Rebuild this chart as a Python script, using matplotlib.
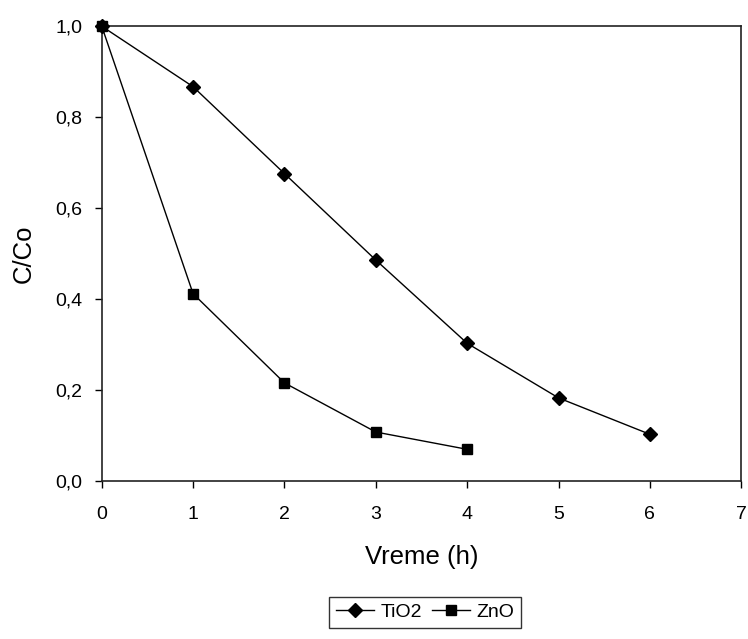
import matplotlib
matplotlib.use("Agg")
import matplotlib.pyplot as plt

plt.rcParams['font.family'] = ['Liberation Sans', 'DejaVu Sans']

# data
t_tio2 = [0, 1, 2, 3, 4, 5, 6]
c_tio2 = [1.0, 0.867, 0.676, 0.486, 0.303, 0.183, 0.103]
t_zno = [0, 1, 2, 3, 4]
c_zno = [1.0, 0.412, 0.216, 0.108, 0.070]

xticks = [0, 1, 2, 3, 4, 5, 6, 7]
yticks = [0.0, 0.2, 0.4, 0.6, 0.8, 1.0]
ytick_labels = ['0,0', '0,2', '0,4', '0,6', '0,8', '1,0']

fig = plt.figure(figsize=(7.48, 6.39), dpi=100)
ax = fig.add_axes([0.136, 0.247, 0.855, 0.712])

ax.plot(t_tio2, c_tio2, color='black', lw=1, marker='D', ms=7, label='TiO2',
        clip_on=False, zorder=3)
ax.plot(t_zno, c_zno, color='black', lw=1, marker='s', ms=7.5, label='ZnO',
        clip_on=False, zorder=4)

ax.set_xlim(0, 7)
ax.set_ylim(0, 1)
ax.set_xticks(xticks)
ax.set_yticks(yticks)
ax.set_yticklabels(ytick_labels)
ax.tick_params(direction='out', length=5, width=1, labelsize=14, colors='black')
ax.tick_params(axis='x', pad=13)
ax.tick_params(axis='y', pad=9)
for s in ax.spines.values():
    s.set_linewidth(1.2)
    s.set_color('#222222')

ax.set_xlabel('Vreme (h)', fontsize=18.5, labelpad=16)
ax.set_ylabel('C/Co', fontsize=18.5, labelpad=14)

fig.legend(loc='lower center', bbox_to_anchor=(0.568, 0.002), ncol=2, fontsize=14,
           frameon=True, fancybox=False, edgecolor='black', handlelength=2.0,
           handletextpad=0.3, columnspacing=0.5, borderpad=0.35)

fig.savefig('out.png', dpi=100)
